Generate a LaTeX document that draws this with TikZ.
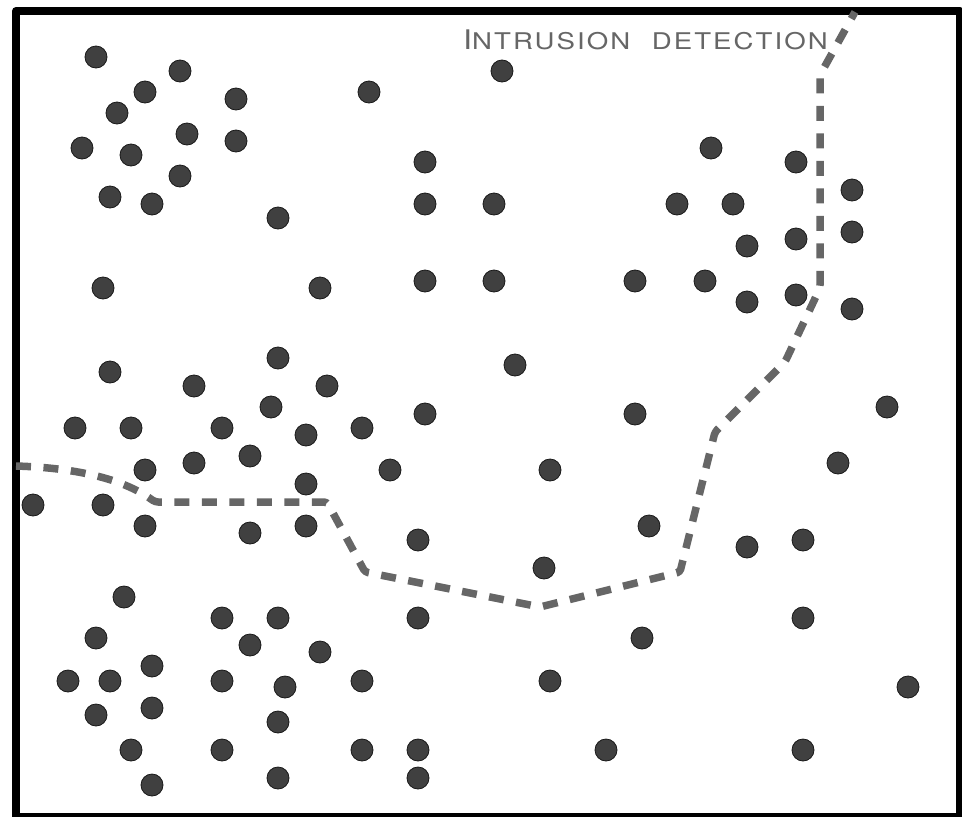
\documentclass[tikz,border=0pt]{standalone}
\usepackage{fontspec}
\newfontfamily\zonefont{TeX Gyre Heros}[FakeStretch=1.2,LetterSpace=9,WordSpace=2.2]
\definecolor{dotgray}{HTML}{404040}
\definecolor{linegray}{HTML}{666666}
\tikzset{
  sensor/.style={circle,fill=dotgray,draw=black!90,line width=0.8,minimum size=22,inner sep=0},
  boundary/.style={draw=linegray,line width=7.5,dash pattern=on 15 off 12.5,rounded corners=3},
  zonetext/.style={text=linegray,inner sep=0,anchor=base west,font=\zonefont}
}
\begin{document}
\begin{tikzpicture}[x=1pt,y=-1pt,line join=round]
	\useasboundingbox (0,0) rectangle (962,817);
	\draw[line width=8] (16,11) rectangle (960,817);
	
	% sensor nodes
	\foreach \x/\y [count=\i] in {96/57,180/71,145/92,236/99,369/92,502/71,117/113,187/134,236/141,82/148,
		131/155,180/176,110/197,152/204,278/218,425/162,425/204,494/204,711/148,796/162,
		852/190,677/204,733/204,747/246,796/239,852/232,103/288,320/288,425/281,494/281,
		635/281,705/281,747/302,796/295,852/309,278/358,110/372,194/386,327/386,515/365,
		271/407,425/414,635/414,887/407,75/428,131/428,222/428,306/435,362/428,250/456,
		145/470,194/463,390/470,550/470,838/463,306/484,33/505,103/505,145/526,250/533,
		306/526,418/540,649/526,747/547,803/540,544/568,124/597,222/618,278/618,418/618,
		803/618,96/638,250/645,320/652,642/638,152/666,68/681,110/681,222/681,285/687,
		362/681,550/681,908/687,96/715,152/708,278/722,131/750,222/750,362/750,418/750,
		606/750,803/750,152/785,278/778,418/778}
		\node[sensor] (s\i) at (\x,\y) {};
	
	% boundary of the detection zone
	\coordinate (b0) at (16,466);
	\coordinate (b1) at (155,502);
	\coordinate (b2) at (327,502);
	\coordinate (b3) at (365,572);
	\coordinate (b4) at (540,607);
	\coordinate (b5) at (680,572);
	\coordinate (b6) at (715,432);
	\coordinate (b7) at (785,362);
	\coordinate (b8) at (820,288);
	\coordinate (b9) at (820,75);
	\coordinate (b10) at (855,12);
	\draw[boundary] (b0) .. controls (80,468) and (125,480) .. (b1) -- (b2) -- (b3) -- (b4) -- (b5) -- (b6) -- (b7) -- (b8) -- (b9) -- (b10);
	
	\node[zonetext] (zone) at (463,49) {\fontsize{27}{27}\selectfont I\fontsize{23}{23}\selectfont NTRUSION DETECTION};
\end{tikzpicture}
\end{document}
